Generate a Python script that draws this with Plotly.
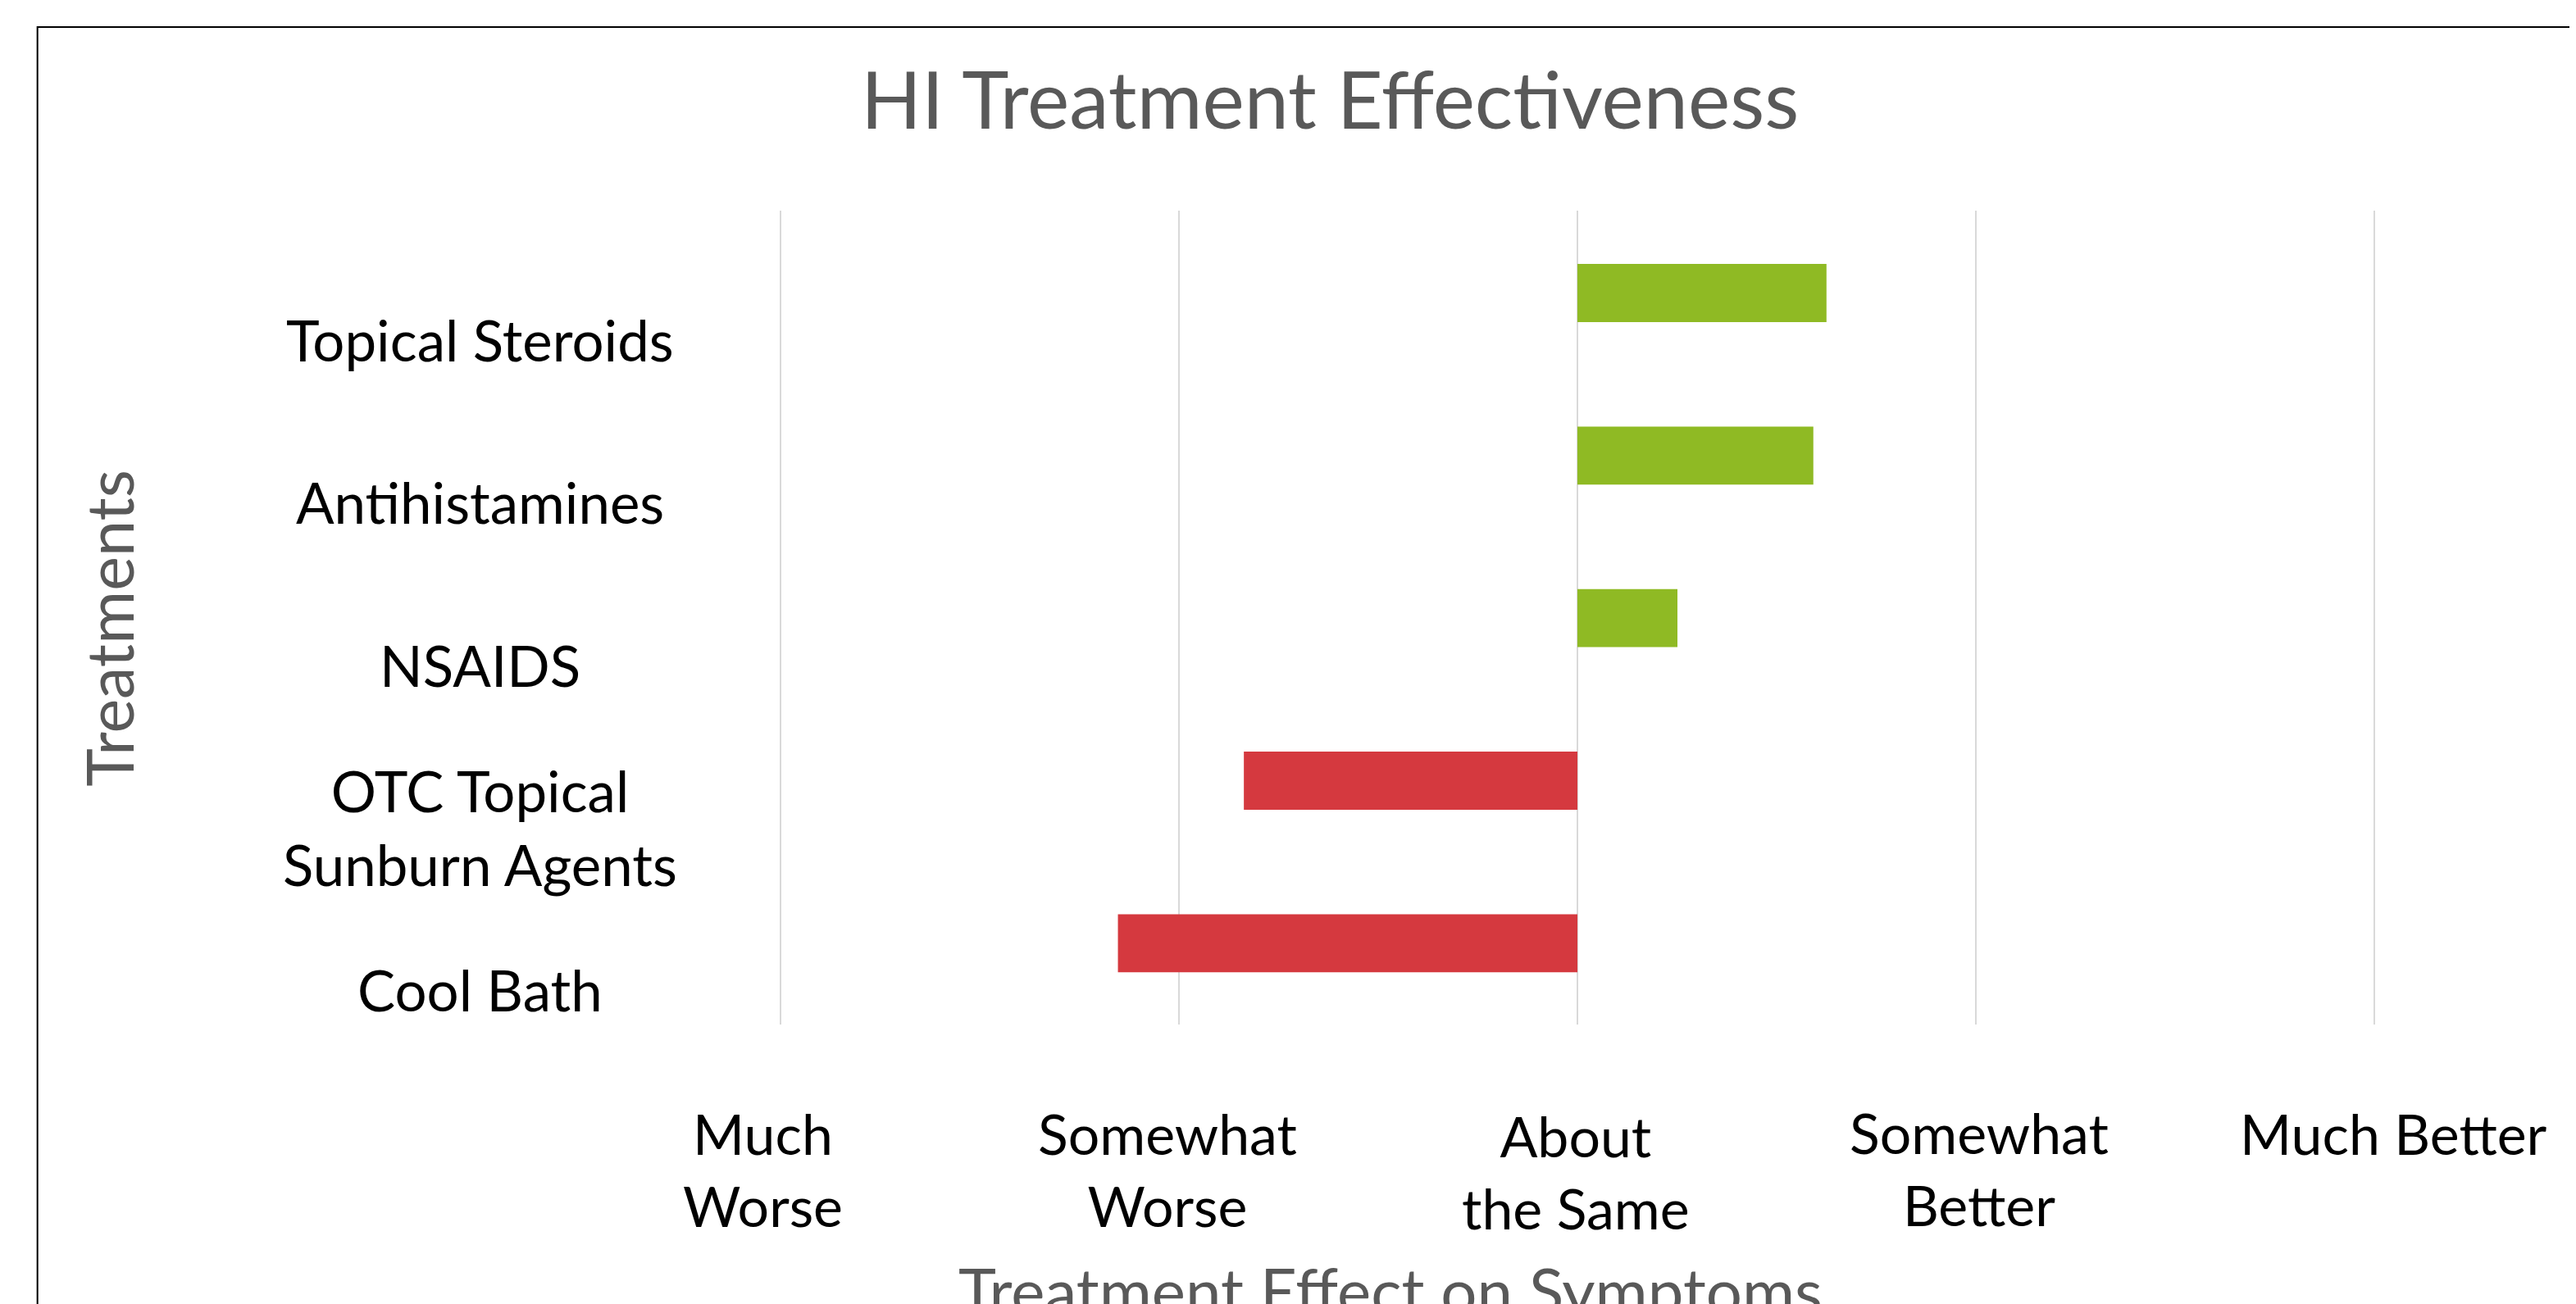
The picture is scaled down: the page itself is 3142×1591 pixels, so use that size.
import plotly.graph_objects as go

# ---- data ----
treatments = ["Topical Steroids", "Antihistamines", "NSAIDS",
              "OTC Topical<br>Sunburn Agents", "Cool Bath"]
effect = [0.625, 0.592, 0.251, -0.837, -1.153]
tick_vals = [-2, -1, 0, 1, 2]
tick_text = ["Much<br>Worse", "Somewhat<br>Worse", "About<br>the Same",
             "Somewhat<br>Better", "Much Better"]

# ---- style ----
GREEN = "#8FBA24"
RED = "#D5393F"
bar_colors = [GREEN if v >= 0 else RED for v in effect]
tick_label_xshift = [-21, -14, -2, 4, 23]
tick_label_yshift = [0, 0, -3, 1, 0]

OFF = 8  # page body margin
W, H = 3142 - OFF, 1591 - OFF
XMIN, XMAX, PAD = -2, 2, 0.012
GL, GR = 952 - OFF, 2896 - OFF            # pixel pos of x=-2 and x=2
PPU = (GR - GL) / (XMAX - XMIN)
L = GL - PAD * PPU
R = GR + PAD * PPU
T, B = 257 - OFF, 1250 - OFF
FONT = "Lato, 'Open Sans', sans-serif"

def px_x(p):
    return (p - OFF - L) / (R - L)

def px_y(p):
    return (B - (p - OFF)) / (B - T)

fig = go.Figure()
fig.add_trace(go.Bar(
    y=treatments, x=effect, orientation="h", base=0,
    marker=dict(color=bar_colors, line=dict(width=0)),
    showlegend=False, hoverinfo="x+y",
))

# category labels (centered, shifted below bars as in the original)
for t in treatments:
    fig.add_annotation(x=px_x(586), xref="paper", y=t, yref="y",
                       yshift=-57, text=t, showarrow=False,
                       xanchor="center", yanchor="middle", align="center",
                       font=dict(family=FONT, size=69, color="#000000"))

# x tick labels
for v, txt, dx, dy in zip(tick_vals, tick_text, tick_label_xshift,
                          tick_label_yshift):
    fig.add_annotation(x=v, xref="x", y=px_y(1340), yref="paper",
                       xshift=dx, yshift=dy, text=txt, showarrow=False,
                       xanchor="center", yanchor="top", align="center",
                       font=dict(family=FONT, size=68, color="#000000"))

# y axis title
fig.add_annotation(x=px_x(132), xref="paper", y=px_y(766), yref="paper",
                   text="Treatments", textangle=-90, showarrow=False,
                   xanchor="center", yanchor="middle",
                   font=dict(family=FONT, size=79, color="#595959"))

# x axis title (chart cropped at bottom)
fig.add_annotation(x=px_x(1696), xref="paper", y=px_y(1525), yref="paper",
                   text="Treatment Effect on Symptoms", showarrow=False,
                   xanchor="center", yanchor="top",
                   font=dict(family=FONT, size=78, color="#595959"))

# chart title
fig.add_annotation(x=px_x(1622), xref="paper", y=px_y(119), yref="paper",
                   text="HI Treatment Effectiveness", showarrow=False,
                   xanchor="center", yanchor="middle",
                   font=dict(family=FONT, size=97, color="#595959"))

# chart border (cropped on right and bottom)
fig.add_shape(type="rect", xref="paper", yref="paper",
              x0=px_x(46), x1=px_x(3400), y0=px_y(1800), y1=px_y(33),
              line=dict(color="#000000", width=2), fillcolor="rgba(0,0,0,0)",
              layer="above")

fig.update_layout(
    width=W, height=H,
    margin=dict(l=L, r=W - R, t=T, b=H - B, pad=0),
    paper_bgcolor="white", plot_bgcolor="white",
    bargap=0.643,
    font=dict(family=FONT, color="#000000"),
    xaxis=dict(range=[XMIN - PAD, XMAX + PAD], tickvals=tick_vals,
               showticklabels=False,
               showgrid=True, gridcolor="#D9D9D9", gridwidth=2,
               zeroline=True, zerolinecolor="#D9D9D9", zerolinewidth=2,
               showline=False, ticks="", fixedrange=True),
    yaxis=dict(categoryorder="array", categoryarray=treatments,
               autorange="reversed", showticklabels=False, showgrid=False,
               zeroline=False, showline=False, ticks="", fixedrange=True),
)

fig.write_html("out.html")
